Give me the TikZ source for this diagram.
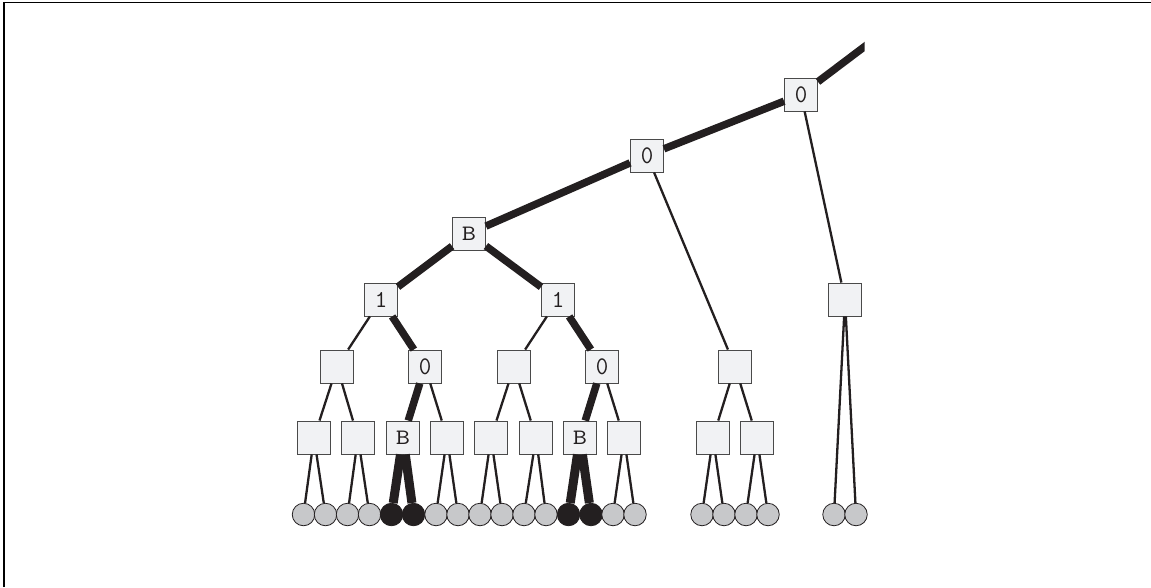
\documentclass[tikz,border=0pt]{standalone}
\usepackage{graphicx}
\definecolor{sqfill}{HTML}{F1F2F4}
\definecolor{sqline}{HTML}{4A4A4A}
\definecolor{leafgray}{HTML}{C7C8CA}
\definecolor{ink}{HTML}{231F20}
\newcommand{\lblB}{\scalebox{1.25}[1]{B}}
\newcommand{\lblZero}{\scalebox{1.1}[1.15]{0}}
\newcommand{\lblOne}{\scalebox{1.1}[1.1]{1}}
\tikzset{
  sq/.style={draw=sqline,fill=sqfill,line width=0.9pt,minimum size=33pt,inner sep=0pt,rectangle,font=\ttfamily\fontsize{22pt}{22pt}\selectfont,text=ink},
  leaf/.style={circle,draw=ink,fill=leafgray,line width=0.8pt,minimum size=22.5pt,inner sep=0pt},
  hot/.style={circle,draw=ink,fill=ink,line width=0.8pt,minimum size=22.5pt,inner sep=0pt},
  thin edge/.style={draw=ink,line width=2.3pt},
  thick edge/.style={draw=ink,line width=7.5pt},
  fat edge/.style={draw=ink,line width=9pt},
}
\begin{document}
\begin{tikzpicture}[x=1pt,y=-1pt]
\useasboundingbox (0,0) rectangle (1151,587);
\draw[black,line width=1.4pt] (4,587) -- (4,2.3) -- (1151,2.3);
% squares
\node[sq] (r0) at (801,94.5) {\lblZero};
\node[sq] (r1) at (647,155.5) {\lblZero};
\node[sq] (t) at (469,233.5) {\lblB};
\node[sq] (a) at (381,299.5) {\lblOne};
\node[sq] (b) at (558,299.5) {\lblOne};
\node[sq] (c) at (845,299.5) {};
\node[sq] (a1) at (337,366.5) {};
\node[sq] (a2) at (425,366.5) {\lblZero};
\node[sq] (b1) at (514,366.5) {};
\node[sq] (b2) at (602,366.5) {\lblZero};
\node[sq] (d) at (735,366.5) {};
\node[sq] (s1) at (314,437.5) {};
\node[sq] (s2) at (358,437.5) {};
\node[sq] (s3) at (403,437.5) {\lblB};
\node[sq] (s4) at (447,437.5) {};
\node[sq] (s5) at (491,437.5) {};
\node[sq] (s6) at (536,437.5) {};
\node[sq] (s7) at (580,437.5) {\lblB};
\node[sq] (s8) at (624,437.5) {};
\node[sq] (s9) at (713,437.5) {};
\node[sq] (s10) at (757,437.5) {};
% leaves
\foreach \n/\x/\st in {l1/303.5/leaf,l2/325.5/leaf,l3/347.5/leaf,l4/369.5/leaf,l5/391.5/hot,l6/413.5/hot,l7/436/leaf,l8/458/leaf,l9/480/leaf,l10/502/leaf,l11/524/leaf,l12/546/leaf,l13/568.5/hot,l14/591/hot,l15/613/leaf,l16/635/leaf,l17/702/leaf,l18/724/leaf,l19/746/leaf,l20/768/leaf,l21/834/leaf,l22/856/leaf}
  \node[\st] (\n) at (\x,514.5) {};
\coordinate (free) at (864,47);
% thick path
\begin{scope}
\clip (700,0) rectangle (864.5,200);
\draw[thick edge,shorten >=-6pt] (r0) -- (free);
\end{scope}
\draw[thick edge] (r0) -- (r1);
\draw[thick edge] (r1) -- (t);
\draw[thick edge] (t) -- (a);
\draw[thick edge] (t) -- (b);
\draw[thick edge] (a) -- (a2);
\draw[thick edge] (b) -- (b2);
\draw[thick edge] (a2) -- (s3);
\draw[thick edge] (b2) -- (s7);
\draw[fat edge] (s3) -- (l5);
\draw[fat edge] (s3) -- (l6);
\draw[fat edge] (s7) -- (l13);
\draw[fat edge] (s7) -- (l14);
% thin
\foreach \p/\q in {r0/c,r1/d,a/a1,b/b1,a1/s1,a1/s2,a2/s4,b1/s5,b1/s6,b2/s8,d/s9,d/s10,
  s1/l1,s1/l2,s2/l3,s2/l4,s4/l7,s4/l8,s5/l9,s5/l10,s6/l11,s6/l12,s8/l15,s8/l16,s9/l17,s9/l18,s10/l19,s10/l20,c/l21,c/l22}
  \draw[thin edge] (\p) -- (\q);
\end{tikzpicture}
\end{document}
